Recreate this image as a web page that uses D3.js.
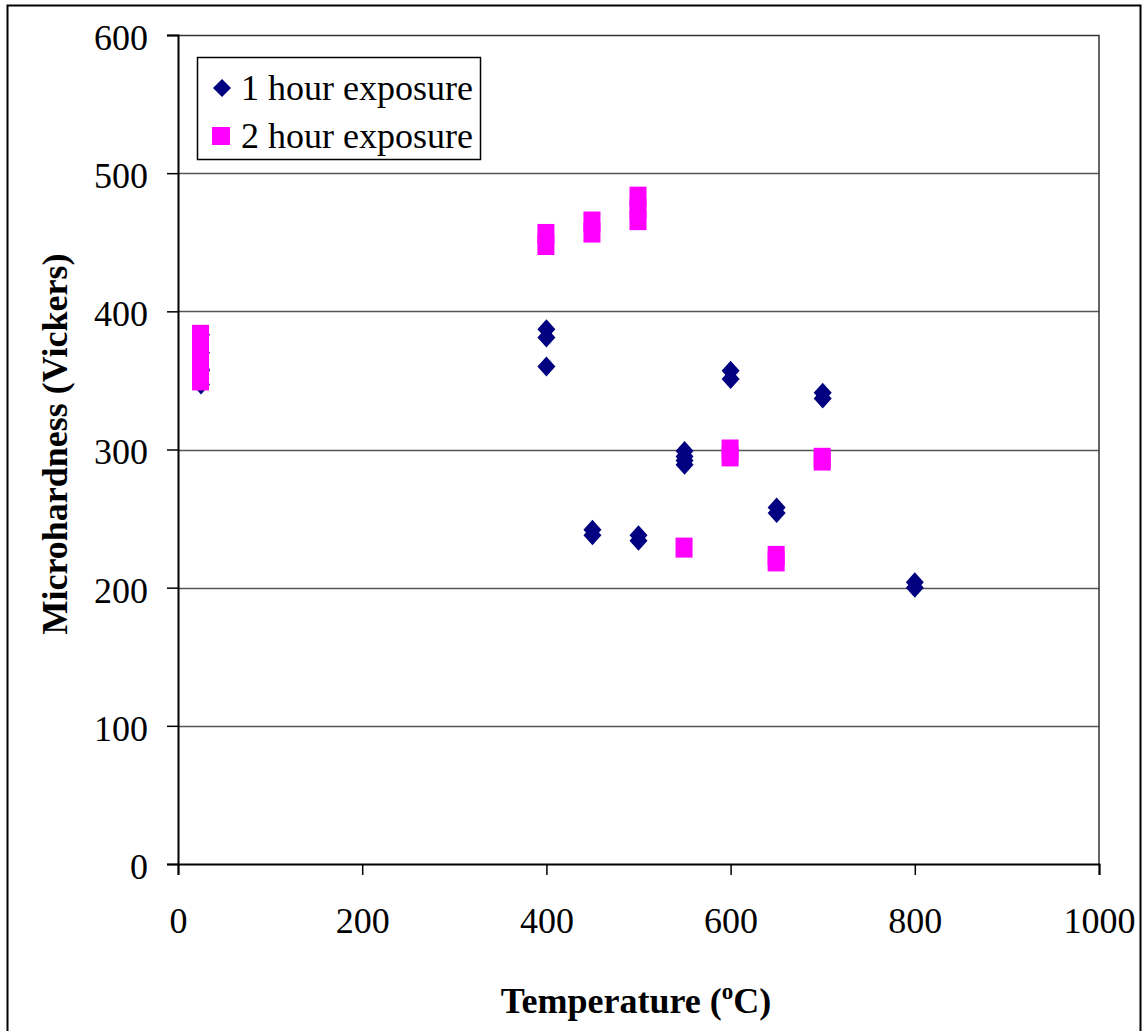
<!DOCTYPE html>
<html>
<head>
<meta charset="utf-8">
<script src="https://cdn.jsdelivr.net/npm/d3@7"></script>
<style>
  body { margin: 0; background: #fff; }
  svg text { font-family: "Liberation Serif", "Tinos", "DejaVu Serif", serif !important; }
</style>
</head>
<body>
<div id="chart-area"></div>
<script>
// 1 hour exposure (temperature, hardness)
const oneHourTemp = [25, 25, 25, 25, 25, 400, 400, 400, 450, 450, 500, 500, 550, 550, 550, 550, 600, 600, 650, 650, 700, 700, 800, 800]
const oneHourHv = [383, 370, 357, 358, 347, 387, 381, 360, 242, 238, 238, 234, 299, 295, 292, 289, 357, 351, 258, 254, 341, 337, 204, 200]

// 2 hour exposure
const twoHourTemp = [25, 25, 25, 25, 400, 400, 450, 450, 500, 500, 500, 550, 600, 600, 650, 650, 700, 700]
const twoHourHv = [383, 372, 360, 350, 456, 448, 465, 457, 483, 474, 466, 229, 300, 295, 223, 219, 294, 292]

const xTicks = [0, 200, 400, 600, 800, 1000]
const yTicks = [0, 100, 200, 300, 400, 500, 600]
const seriesNames = ['1 hour exposure', '2 hour exposure']

const FONT = '"Liberation Serif", "Tinos", "DejaVu Serif", serif'
const FONT_SIZE = 36
const CANVAS_WIDTH = 1144
const CANVAS_HEIGHT = 1031
const margin = { top: 35, left: 178, right: 45, bottom: 167 }
const width = CANVAS_WIDTH - margin.left - margin.right
const height = CANVAS_HEIGHT - margin.top - margin.bottom

const $svg = d3.select('#chart-area')
	.append('svg')
	.attr('width', CANVAS_WIDTH)
	.attr('height', CANVAS_HEIGHT)
	.attr('font-family', FONT)

// outer frame
$svg.append('rect')
	.attr('x', 7.5)
	.attr('y', 5.5)
	.attr('width', 1133)
	.attr('height', 1040)
	.attr('fill', 'none')
	.attr('stroke', '#000')
	.attr('stroke-width', 2)

const $scene = $svg.append('g')
	.attr('transform', `translate(${margin.left}, ${margin.top})`)

const xScale = d3.scaleLinear().domain([0, 1000]).range([0, width])
const yScale = d3.scaleLinear().domain([0, 600]).range([height, 0])

/* Gridlines */
$scene.append('g')
	.selectAll('line')
	.data(yTicks.filter(d => d > 0 && d < 600))
	.join('line')
	.attr('x1', 0)
	.attr('x2', width)
	.attr('y1', d => Math.round(yScale(d)) + 0.5)
	.attr('y2', d => Math.round(yScale(d)) + 0.5)
	.attr('stroke', '#555')
	.attr('stroke-width', 1.5)

// plot border (top / right)
$scene.append('path')
	.attr('d', `M0,0.5H${width}V${height}`)
	.attr('fill', 'none')
	.attr('stroke', '#333')
	.attr('stroke-width', 1.5)

/* Axes */
const xAxisCall = d3.axisBottom(xScale).tickValues(xTicks).tickFormat(d3.format('d')).tickSize(11).tickPadding(32)
const yAxisCall = d3.axisLeft(yScale).tickValues(yTicks).tickFormat(d3.format('d')).tickSize(11).tickPadding(19)

const $xAxis = $scene.append('g')
	.attr('transform', `translate(0, ${height})`)
	.call(xAxisCall)
const $yAxis = $scene.append('g')
	.call(yAxisCall)

;[$xAxis, $yAxis].forEach($a => {
	$a.attr('font-family', FONT).attr('font-size', FONT_SIZE)
	$a.select('.domain').attr('stroke', '#000').attr('stroke-width', 2)
	$a.selectAll('.tick line').attr('stroke', '#000').attr('stroke-width', 1.5)
	$a.selectAll('.tick text').attr('fill', '#000')
})
$yAxis.selectAll('.tick text').attr('dy', '0.4em')

/* Axis titles */
$svg.append('text')
	.attr('x', 636)
	.attr('y', 1013)
	.attr('text-anchor', 'middle')
	.attr('font-size', FONT_SIZE)
	.attr('font-weight', 'bold')
	.html('Temperature (<tspan dy="-14" font-size="23">o</tspan><tspan dy="14">C)</tspan>')

$svg.append('text')
	.attr('transform', `translate(67, 444) rotate(-90)`)
	.attr('text-anchor', 'middle')
	.attr('font-size', FONT_SIZE)
	.attr('font-weight', 'bold')
	.text('Microhardness (Vickers)')

/* Marks */
const diamond = (cx, cy) => `M${cx},${cy - 10}L${cx + 9},${cy}L${cx},${cy + 10}L${cx - 9},${cy}Z`

const oneHour = oneHourTemp.map((t, i) => ({ t, hv: oneHourHv[i] }))
const twoHour = twoHourTemp.map((t, i) => ({ t, hv: twoHourHv[i] }))

$scene.append('g')
	.selectAll('path')
	.data(oneHour)
	.join('path')
	.attr('d', d => diamond(xScale(d.t), yScale(d.hv)))
	.attr('fill', '#000080')

$scene.append('g')
	.selectAll('rect')
	.data(twoHour)
	.join('rect')
	.attr('x', d => xScale(d.t) - 9)
	.attr('y', d => yScale(d.hv) - 10)
	.attr('width', 17)
	.attr('height', 20)
	.attr('fill', '#ff00ff')

/* Legend */
const $legend = $svg.append('g')
$legend.append('rect')
	.attr('x', 197.5)
	.attr('y', 57.5)
	.attr('width', 283)
	.attr('height', 102)
	.attr('fill', '#fff')
	.attr('stroke', '#000')
	.attr('stroke-width', 1.5)

seriesNames.forEach((name, i) => {
	const cy = 88 + i * 48
	if (i === 0) {
		$legend.append('path')
			.attr('d', `M222,${cy - 9}L231,${cy}L222,${cy + 9}L213,${cy}Z`)
			.attr('fill', '#000080')
	} else {
		$legend.append('rect')
			.attr('x', 212)
			.attr('y', cy - 9)
			.attr('width', 18)
			.attr('height', 18)
			.attr('fill', '#ff00ff')
	}
	$legend.append('text')
		.attr('x', 241)
		.attr('y', cy + 12)
		.attr('font-size', FONT_SIZE)
		.text(name)
})
</script>
</body>
</html>
